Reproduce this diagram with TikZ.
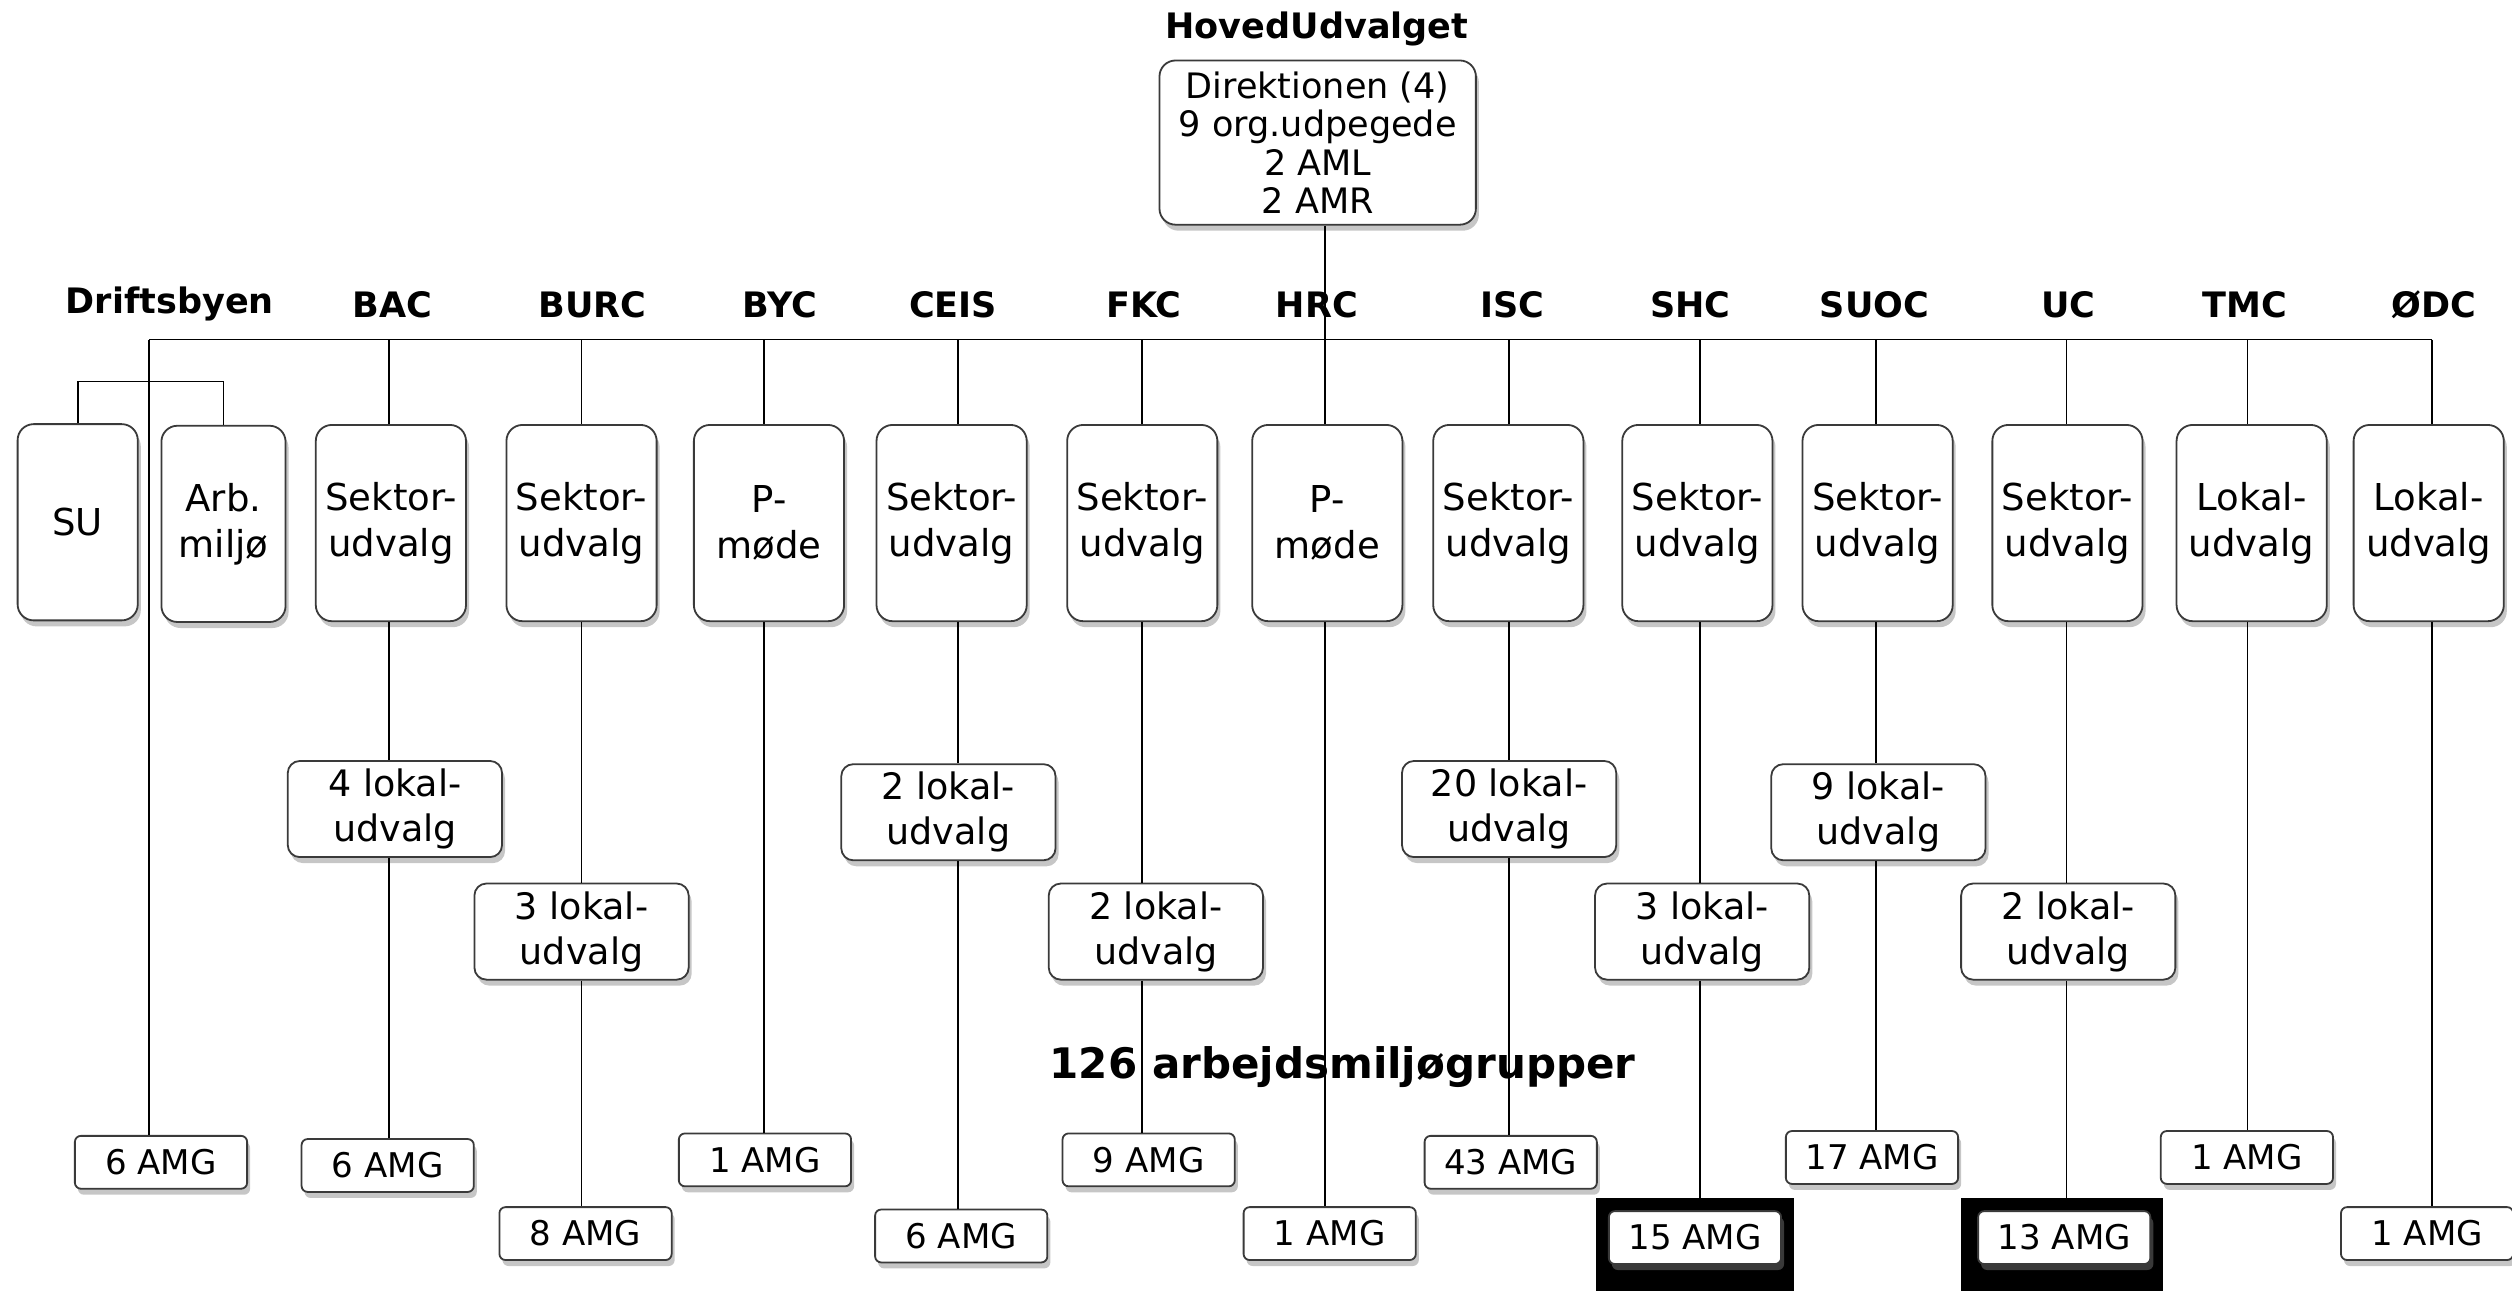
\documentclass[tikz,border=0pt]{standalone}
\usepackage{fontspec}
\setmainfont{DejaVu Sans}
\usetikzlibrary{positioning,shadows,backgrounds}
\newcommand{\sek}{Sektor-\\udvalg}
\newcommand{\pmode}{P-\\møde}
\newcommand{\lokal}{Lokal-\\udvalg}
\definecolor{edgec}{HTML}{3A3A3A}
\tikzset{
  shd/.style={drop shadow={shadow xshift=1.5pt, shadow yshift=-3pt, opacity=0.45}},
  sect/.style={draw=edgec, line width=0.9pt, fill=white, rounded corners=8pt, inner sep=1pt, minimum width=75pt, minimum height=98pt, align=center, font=\fontsize{18.5}{23}\selectfont, shd},
  topb/.style={sect, minimum width=158pt, minimum height=82pt, font=\fontsize{17.5}{19.2}\selectfont},
  lokb/.style={draw=edgec, line width=0.9pt, fill=white, rounded corners=6pt, inner sep=1pt, minimum width=107pt, minimum height=48pt, align=center, font=\fontsize{18.2}{22.4}\selectfont, shd},
  amg/.style={draw=edgec, line width=0.9pt, fill=white, rounded corners=3pt, inner sep=0pt, minimum width=86pt, minimum height=26.4pt, font=\fontsize{17}{19}\selectfont, shd},
  hd/.style={font=\fontsize{17.5}{20}\bfseries\selectfont},
  ln/.style={line width=0.8pt},
}

\begin{document}
\begin{tikzpicture}[x=0.8pt, y=-0.8pt]
  \useasboundingbox (0,0) rectangle (1568,806);
  \fill (996,748) rectangle (1120,806);
  \fill (1224,748) rectangle (1350,806);
  \node[hd] (hov) at (822,18) {HovedUdvalget};
  \node[topb] (dir) at (822.5,89) {Direktionen (4)\\9 org.udpegede\\2 AML\\2 AMR};
  \node[hd] (h-drift) at (106,190) {Driftsbyen};
  \coordinate (c-drift) at (93,212);
  \node[sect, minimum width=60pt] (su) at (48.5,326) {SU};
  \node[sect, minimum width=62pt] (arb) at (139.5,327) {Arb.\\miljø};
  \node[amg] (a-drift) at (100.5,725.5) {6 AMG};
  \foreach \id/\lab/\hx/\lx/\st/\sx/\na/\ax/\ay in {
      bac/BAC/245/243/\sek/244/6/242/727.5,
      burc/BURC/370/363/\sek/363/8/365.5/770,
      byc/BYC/487/477/\pmode/480/1/477.5/724,
      ceis/CEIS/595/598/\sek/594/6/600/771.5,
      fkc/FKC/714/713/\sek/713/9/717/724,
      hrc/HRC/822/827/\pmode/828.5/1/830/770,
      isc/ISC/944/942/\sek/941.5/43/943/725.5,
      shc/SHC/1055/1061/\sek/1059.5/15/1058/772.5,
      suoc/SUOC/1170/1171/\sek/1172/17/1168.5/722.5,
      uc/UC/1291/1290/\sek/1290.5/13/1288.5/772.5,
      tmc/TMC/1401/1403/\lokal/1405.5/1/1402.5/722.5,
      odc/ØDC/1519/1518/\lokal/1516/1/1515/770}
  {
    \node[hd] (h-\id) at (\hx,190) {\lab};
    \coordinate (c-\id) at (\lx,212);
    \node[sect] (s-\id) at (\sx,326.5) {\st};
    \node[amg] (a-\id) at (\ax,\ay) {\na\ AMG};
    \draw[ln] (c-\id) -- (s-\id.north -| c-\id);
  }
  \foreach \id/\nl/\px/\py in {bac/4/246.5/505, burc/3/363/581.5, ceis/2/592/507, fkc/2/721.5/581.5,
      isc/20/942/505, shc/3/1062.5/581.5, suoc/9/1172.5/507, uc/2/1291/581.5}
  {
    \node[lokb] (l-\id) at (\px,\py) {\nl\ lokal-\\udvalg};
    \draw[ln] (s-\id.south -| c-\id) -- (l-\id.north -| c-\id) (l-\id.south -| c-\id) -- (a-\id.north -| c-\id);
  }
  \foreach \id in {byc,hrc,tmc,odc}
    \draw[ln] (s-\id.south -| c-\id) -- (a-\id.north -| c-\id);
  \draw[ln] (c-drift) -- (c-odc);
  \draw[ln] (c-drift) -- (a-drift.north -| c-drift);
  \draw[ln] (su.north) -- ++(0,-26) -| (arb.north);
  \draw[ln] (dir.south -| c-hrc) -- (c-hrc);
  \node[font=\fontsize{21}{24}\bfseries\selectfont] (tot) at (838,666) {126 arbejdsmiljøgrupper};
\end{tikzpicture}
\end{document}
